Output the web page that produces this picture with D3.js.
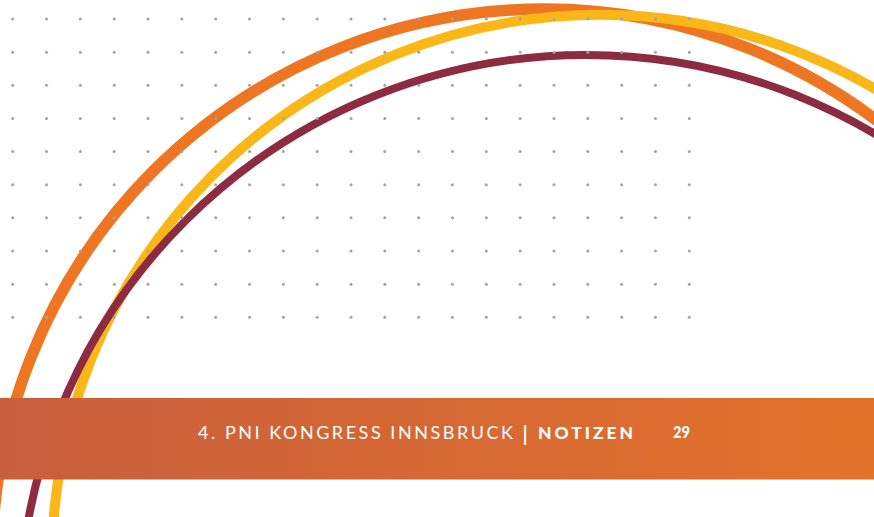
<!DOCTYPE html>
<html>
<head>
<meta charset="utf-8">
<script src="https://cdn.jsdelivr.net/npm/d3@7"></script>
<style>
  html, body { margin: 0; padding: 0; background: #fff; }
  svg { display: block; }
</style>
</head>
<body>
<div id="page"></div>
<script>
const width = 874,
  height = 517;

// dot grid (grid units)
const dotCols = d3.range(0, 21);
const dotRows = d3.range(0, 10);

// arcs, centre and radius in grid units
const arcNames = ["orange", "yellow", "maroon"];
const arcCx = [15.705, 17.36, 16.95];
const arcCy = [16.353, 16.41, 18.19];
const arcR = [16.317, 16.2, 16.76];
const arcColors = ["#ee7623", "#fbb617", "#8c2b42"];
const arcWidths = [11.5, 10, 8];

// footer texts
const footerTitle = "4. PNI KONGRESS INNSBRUCK";
const footerSection = "NOTIZEN";
const pageNumber = "29";

const svg = d3
  .select("#page")
  .append("svg")
  .attr("width", width)
  .attr("height", height);

const x = d3.scaleLinear().domain([0, 20]).range([12.7, 689.3]);
const y = d3.scaleLinear().domain([0, 9]).range([19, 317.3]);
const unit = x(1) - x(0);

const grad = svg
  .append("defs")
  .append("linearGradient")
  .attr("id", "band")
  .attr("x1", "0%")
  .attr("x2", "100%");
grad.append("stop").attr("offset", "0%").attr("stop-color", "#c95e3d");
grad.append("stop").attr("offset", "100%").attr("stop-color", "#e3722a");

// arcs
const arcs = arcNames.map(function (n, i) {
  return { name: n, cx: arcCx[i], cy: arcCy[i], r: arcR[i], color: arcColors[i], w: arcWidths[i] };
});
svg
  .selectAll("circle.arc")
  .data(arcs)
  .enter()
  .append("circle")
  .attr("class", "arc")
  .attr("cx", (d) => x(d.cx))
  .attr("cy", (d) => y(d.cy))
  .attr("r", (d) => d.r * unit)
  .attr("fill", "none")
  .attr("stroke", (d) => d.color)
  .attr("stroke-width", (d) => d.w);

// dots
const dots = [];
dotRows.forEach(function (r) {
  dotCols.forEach(function (c) {
    dots.push({ c: c, r: r });
  });
});
svg
  .selectAll("circle.dot")
  .data(dots)
  .enter()
  .append("circle")
  .attr("class", "dot")
  .attr("cx", (d) => x(d.c))
  .attr("cy", (d) => y(d.r))
  .attr("r", 1.5)
  .style("fill", "#a3a3a3");

// footer band
svg
  .append("rect")
  .attr("x", 0)
  .attr("y", 398)
  .attr("width", width)
  .attr("height", 81.5)
  .attr("fill", "url(#band)");

const font = "Lato, 'Open Sans', sans-serif";

svg
  .append("text")
  .attr("x", 198)
  .attr("y", 439.3)
  .attr("textLength", 315)
  .attr("lengthAdjust", "spacing")
  .style("font-family", font)
  .style("font-size", "18px")
  .style("fill", "#fff")
  .text(footerTitle);

svg
  .append("text")
  .attr("x", 522.5)
  .attr("y", 441)
  .style("font-family", font)
  .style("font-size", "20px")
  .style("font-weight", "700")
  .style("fill", "#fff")
  .text("|");

svg
  .append("text")
  .attr("x", 538)
  .attr("y", 439.3)
  .attr("textLength", 95)
  .attr("lengthAdjust", "spacing")
  .style("font-family", font)
  .style("font-size", "17.5px")
  .style("font-weight", "900")
  .style("fill", "#fff")
  .text(footerSection);

svg
  .append("text")
  .attr("x", 673)
  .attr("y", 437.7)
  .attr("textLength", 17)
  .attr("lengthAdjust", "spacingAndGlyphs")
  .style("font-family", font)
  .style("font-size", "17.5px")
  .style("font-weight", "900")
  .style("fill", "#fff")
  .text(pageNumber);
</script>
</body>
</html>
